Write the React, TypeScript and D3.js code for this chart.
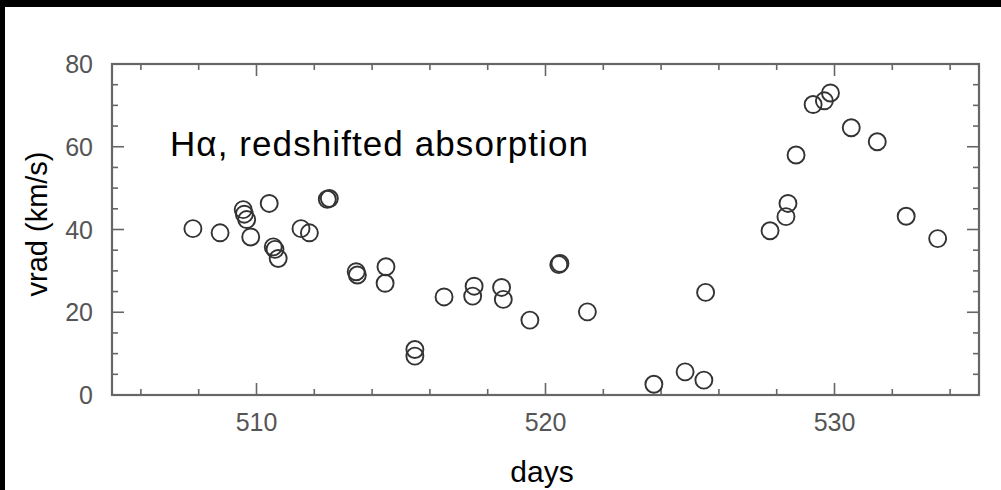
import React from "react";
import * as d3 from "d3";

const days: number[] = [
  507.8, 508.74, 509.54, 509.58, 509.66, 509.8, 510.44, 510.58, 510.64, 510.75,
  511.54, 511.83, 512.45, 512.52, 513.45, 513.49, 514.48, 514.45, 515.48, 515.48,
  516.49, 517.53, 517.48, 518.48, 518.54, 519.46, 520.46, 520.5, 521.45, 523.75,
  524.83, 525.48, 525.54, 527.77, 528.32, 528.39, 528.67, 529.26, 529.65, 529.86,
  530.58, 531.48, 532.48, 533.57,
];
const vrad: number[] = [
  40.2, 39.2, 44.8, 43.7, 42.4, 38.2, 46.3, 35.8, 35.2, 33.0,
  40.2, 39.2, 47.3, 47.5, 29.8, 29.0, 31.0, 27.0, 11.0, 9.4,
  23.7, 26.3, 23.9, 26.0, 23.1, 18.1, 31.5, 31.8, 20.1, 2.6,
  5.6, 3.6, 24.8, 39.7, 43.1, 46.3, 58.0, 70.2, 71.1, 73.0,
  64.6, 61.2, 43.2, 37.8,
];
const xDomain: [number, number] = [505, 535];
const yDomain: [number, number] = [0, 80];
const xMajor = [510, 520, 530];
const xMinor = d3.range(506, 535, 2).filter((d) => d % 10 !== 0);
const yMajor = [0, 20, 40, 60, 80];
const yMinor = d3.range(5, 80, 5).filter((d) => d % 20 !== 0);
const title = "Hα, redshifted absorption";
const xTitle = "days";
const yTitle = "vrad (km/s)";

const W = 1001;
const H = 490;
const L = 112, R = 979, T = 64, B = 395;
const font = "'Liberation Sans', Arial, Helvetica, sans-serif";
const frameColor = "#666";

export default function App() {
  const x = d3.scaleLinear().domain(xDomain).range([L, R]);
  const y = d3.scaleLinear().domain(yDomain).range([B, T]);
  const majLen = 12, minLen = 6;
  return (
    <div style={{ position: "absolute", left: 0, top: 0 }}>
      <svg width={W} height={H} style={{ display: "block" }}>
        <rect x={0} y={0} width={W} height={H} fill="#000" />
        <rect x={5} y={7} width={W - 5} height={H - 7} fill="#fff" />
        <g stroke={frameColor} strokeWidth={1.6}>
          {xMajor.map((t) => (
            <g key={"xm" + t}>
              <line x1={x(t)} x2={x(t)} y1={B} y2={B - majLen} />
              <line x1={x(t)} x2={x(t)} y1={T} y2={T + majLen} />
            </g>
          ))}
          {xMinor.map((t) => (
            <g key={"xn" + t}>
              <line x1={x(t)} x2={x(t)} y1={B} y2={B - minLen} />
              <line x1={x(t)} x2={x(t)} y1={T} y2={T + minLen} />
            </g>
          ))}
          {yMajor.map((t) => (
            <g key={"ym" + t}>
              <line x1={L} x2={L + majLen} y1={y(t)} y2={y(t)} />
              <line x1={R} x2={R - majLen} y1={y(t)} y2={y(t)} />
            </g>
          ))}
          {yMinor.map((t) => (
            <g key={"yn" + t}>
              <line x1={L} x2={L + minLen} y1={y(t)} y2={y(t)} />
              <line x1={R} x2={R - minLen} y1={y(t)} y2={y(t)} />
            </g>
          ))}
        </g>
        <rect x={L} y={T} width={R - L} height={B - T} fill="none" stroke={frameColor} strokeWidth={2.2} />
        <g fill="#555" fontFamily={font} fontSize={25}>
          {xMajor.map((t) => (
            <text key={"xl" + t} x={x(t)} y={431} textAnchor="middle">
              {t}
            </text>
          ))}
          {yMajor.map((t) => (
            <text key={"yl" + t} x={93} y={y(t) + 9} textAnchor="end">
              {t}
            </text>
          ))}
        </g>
        <g fill="none" stroke="#333" strokeWidth={1.9}>
          {days.map((d, i) => (
            <circle key={i} cx={x(d)} cy={y(vrad[i])} r={8.5} />
          ))}
        </g>
        <text x={170} y={156} fontFamily={font} fontSize={35} fill="#000" textLength={418} lengthAdjust="spacing">
          {title}
        </text>
        <text x={542} y={482} fontFamily={font} fontSize={30} fill="#000" textAnchor="middle">
          {xTitle}
        </text>
        <text
          transform={`translate(47, 224) rotate(-90)`}
          fontFamily={font}
          fontSize={29}
          fill="#000"
          textAnchor="middle"
        >
          {yTitle}
        </text>
      </svg>
    </div>
  );
}
